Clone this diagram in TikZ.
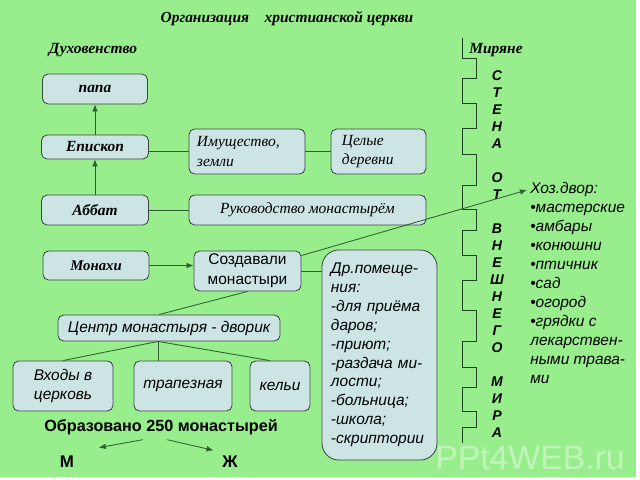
\documentclass[tikz,border=0pt]{standalone}
\usepackage{fontspec}
\setmainfont{Liberation Serif}
\newfontfamily\arialfont{Liberation Sans}
\usetikzlibrary{arrows.meta}
\usepackage{xcolor}
\definecolor{bggreen}{RGB}{152,238,140}
\definecolor{boxfill}{RGB}{204,228,228}
\definecolor{boxbord}{RGB}{60,72,64}
\definecolor{linkcol}{RGB}{45,95,50}
\newcommand{\sfit}{\arialfont\itshape}

\begin{document}
\begin{tikzpicture}[
  x=0.025cm, y=-0.025cm,
  box/.style={draw=boxbord, fill=boxfill, line width=0.6pt,
    rounded corners=4pt, inner sep=1pt, align=center},
  link/.style={linkcol, line width=0.6pt},
  arr/.style={link, -{Latex[length=5pt,width=4pt]}}
]
\useasboundingbox (0,0) rectangle (640,480);

%% ── Background ───────────────────────────────────────────────────────────────
\fill[white] (0,0) rectangle (640,480);
\fill[bggreen] (0,0) rectangle (636,477);

%% ── Headings ─────────────────────────────────────────────────────────────────
\node[font=\fontsize{11}{13}\selectfont\bfseries\itshape] (title) at (287,19)
  {Организация\quad христианской церкви};
\node[font=\fontsize{11}{13}\selectfont\bfseries\itshape] (clergy) at (93,50)
  {Духовенство};
\node[font=\fontsize{11}{13}\selectfont\bfseries\itshape] (laity) at (496,50)
  {Миряне};

%% ── Clergy column ────────────────────────────────────────────────────────────
\node[box, minimum width=2.625cm, minimum height=0.75cm,
  font=\fontsize{11}{13}\selectfont\bfseries\itshape] (papa) at (95,89) {папа};
\node[box, minimum width=2.675cm, minimum height=0.6cm,
  font=\fontsize{11}{13}\selectfont\bfseries\itshape] (episkop) at (95,147) {Епископ};
\node[box, minimum width=2.675cm, minimum height=0.75cm,
  font=\fontsize{11}{13}\selectfont\bfseries\itshape] (abbat) at (95,210) {Аббат};
\node[box, minimum width=2.65cm, minimum height=0.725cm,
  font=\fontsize{10.5}{12}\selectfont\bfseries\itshape] (monakhi) at (96,265.5) {Монахи};

%% ── Property and rule ────────────────────────────────────────────────────────
\node[box, minimum width=2.9cm, minimum height=1.125cm, inner xsep=0.2cm,
  text width=2.5cm, align=left,
  font=\fontsize{11}{14}\selectfont\itshape] (imush) at (247,151.5)
  {Имущество,\\земли};
\node[box, minimum width=2.375cm, minimum height=1.125cm, inner xsep=0.275cm,
  text width=1.825cm, align=left,
  font=\fontsize{11}{14}\selectfont\itshape] (derevni) at (378.5,151.5)
  {Целые\\деревни};
\node[box, minimum width=5.925cm, minimum height=0.75cm,
  font=\fontsize{11}{13}\selectfont\itshape] (rukovod) at (307.5,210)
  {Руководство монастырём};

%% ── Monasteries ──────────────────────────────────────────────────────────────
\node[box, minimum width=2.675cm, minimum height=1cm,
  font=\fontsize{11}{14}\selectfont\arialfont] (sozd) at (247.5,271)
  {Создавали\\монастыри};
\node[box, minimum width=5.55cm, minimum height=0.65cm,
  font=\fontsize{11}{13}\selectfont\sfit] (centr) at (169,328)
  {Центр монастыря - дворик};
\node[box, minimum width=2.5cm, minimum height=1.25cm,
  font=\fontsize{11}{14}\selectfont\sfit] (vhody) at (63,386)
  {Входы в\\церковь};
\node[box, minimum width=2.45cm, minimum height=1.25cm,
  font=\fontsize{11}{14}\selectfont\sfit] (trapez) at (183,386) {трапезная};
\node[box, minimum width=1.5cm, minimum height=1.25cm,
  font=\fontsize{11}{14}\selectfont\sfit] (kelyi) at (280,386) {кельи};
\node[box, rounded corners=12pt, minimum width=2.875cm, minimum height=5.25cm,
  inner xsep=0.225cm, text width=2.425cm, align=left,
  font=\fontsize{11}{13.4}\selectfont\sfit] (drpom) at (379.5,355)
  {Др.помеще-\\ния:\\-для приёма\\даров;\\-приют;\\-раздача ми-\\лости;\\-больница;\\-школа;\\-скриптории};

\node[font=\fontsize{11.5}{14}\selectfont\arialfont\bfseries] (obraz) at (161,427)
  {Образовано 250 монастырей};
\node[font=\fontsize{12}{14}\selectfont\arialfont\bfseries] (muzh) at (67,462) {М};
\node[font=\fontsize{12}{14}\selectfont\arialfont\bfseries] (zhen) at (230,462) {Ж};

%% ── Wall ─────────────────────────────────────────────────────────────────────
\draw[linkcol!70!black, line width=0.6pt]
  (462,38) -- (462,58) -- (476,58) -- (476,78) -- (462,78) -- (462,103)
  -- (476,103) -- (476,128) -- (462,128) -- (462,154) -- (476,154)
  -- (476,185) -- (462,185) -- (462,209) -- (476,209) -- (476,230)
  -- (462,230) -- (462,255) -- (476,255) -- (476,280) -- (462,280)
  -- (462,310) -- (476,310) -- (476,341) -- (462,341) -- (462,367)
  -- (476,367) -- (476,387) -- (462,387) -- (462,411) -- (476,411)
  -- (476,427) -- (462,427) -- (462,443);
\node[anchor=north, inner sep=0pt, align=center,
  font=\fontsize{10}{12.1}\selectfont\arialfont\bfseries\itshape] (wallword) at (497,70)
  {С\\Т\\Е\\Н\\А\\\mbox{}\\О\\Т\\\mbox{}\\В\\Н\\Е\\Ш\\Н\\Е\\Г\\О\\\mbox{}\\М\\И\\Р\\А};

%% ── Farmyard ─────────────────────────────────────────────────────────────────
\node[anchor=north west, inner sep=0pt, align=left,
  font=\fontsize{11}{13.5}\selectfont\sfit] (hoz) at (530,182)
  {Хоз.двор:\\•мастерские\\•амбары\\•конюшни\\•птичник\\•сад\\•огород\\•грядки с\\лекарствен-\\ными трава-\\ми};
\coordinate (hozin) at (527,190);

%% ── Watermark ────────────────────────────────────────────────────────────────
\node[white, opacity=0.4, font=\fontsize{24}{26}\selectfont\arialfont] (mark) at (530,458)
  {PPt4WEB.ru};

%% ── Connectors ───────────────────────────────────────────────────────────────
\draw[arr] (episkop) -- (papa);
\draw[arr] (abbat) -- (episkop);
\draw[link] (imush.west) -- (imush.west -| episkop.east);
\draw[link] (imush) -- (derevni);
\draw[link] (abbat) -- (rukovod);
\draw[arr] (monakhi.east) -- (monakhi.east -| sozd.west);
\draw[arr] (sozd.16) -- (hozin);
\draw[link] (sozd.east) -- (sozd.east -| drpom.west);
\coordinate (fan) at ([xshift=-0.275cm]centr.south);
\draw[link] (sozd.south) -- ([xshift=-0.25cm]centr.north);
\draw[link] (fan) -- (vhody.north);
\draw[link] (fan) -- (fan |- trapez.north);
\draw[link] (fan) -- ([xshift=-0.25cm]kelyi.north);
\draw[arr, shorten >=0.5cm] ([xshift=-0.45cm]obraz.south) -- (muzh.north east);
\draw[arr, shorten >=0.1cm] ([xshift=0.15cm]obraz.south) -- (zhen.north west);

\end{tikzpicture}
\end{document}
